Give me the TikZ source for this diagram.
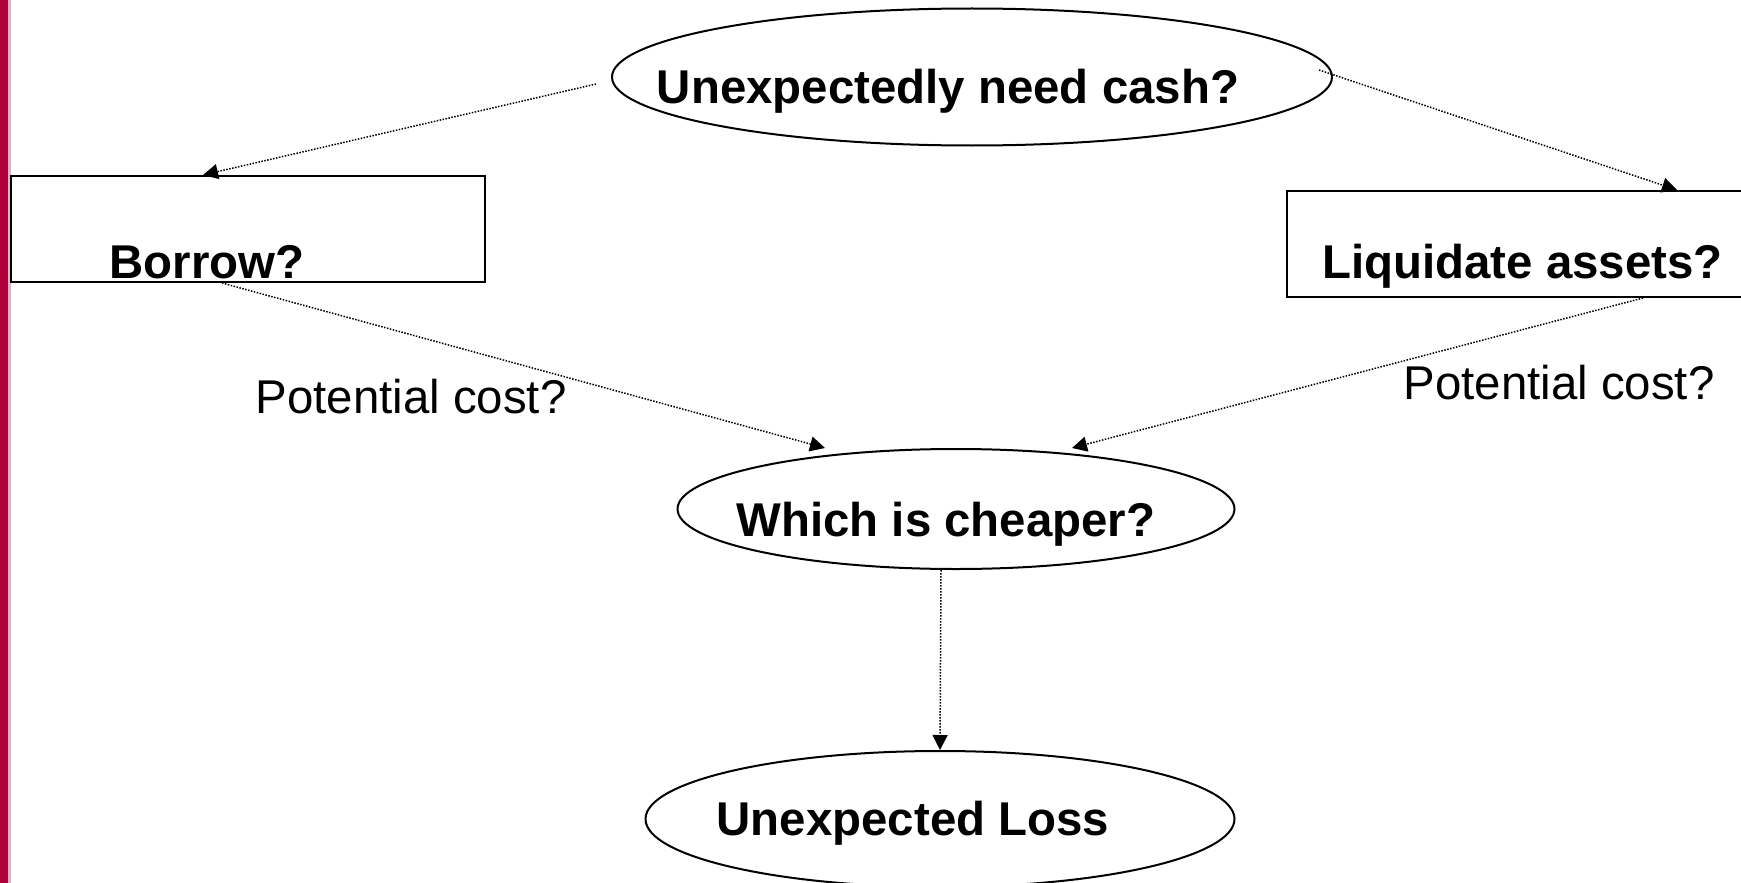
\documentclass[tikz,border=0pt]{standalone}
\usepackage{fontspec}
\setmainfont{Liberation Sans}
\usetikzlibrary{shapes.geometric,arrows.meta}

\definecolor{barred}{RGB}{176,0,60}
\definecolor{barpink}{RGB}{240,170,200}

\tikzset{
  bigtext/.style={font=\fontsize{47.4}{56}\selectfont\bfseries},
  costtext/.style={font=\fontsize{47.4}{56}\selectfont},
  oval/.style={ellipse,draw,line width=2pt,inner sep=0pt},
  boxnode/.style={rectangle,draw,line width=2pt,inner sep=0pt,minimum width=474pt,minimum height=106pt},
  dotarrow/.style={line width=1.5pt,dash pattern=on 1.5pt off 1.5pt,-{Triangle[length=15pt,width=15pt]}}
}

\begin{document}
\begin{tikzpicture}[x=1pt,y=-1pt]
          \useasboundingbox (0,0) rectangle (1741,883);
          \fill[barred] (0,0) rectangle (8,883);
          \fill[barpink] (8,0) rectangle (10.5,883);

          \node[oval,minimum width=720pt,minimum height=137pt,
                label={[bigtext,xshift=-24pt,yshift=-14pt]center:Unexpectedly need cash?}] (need) at (972,77) {};
          \node[boxnode,label={[bigtext,anchor=base,xshift=-41pt,yshift=5pt]south:Borrow?}] (borrow) at (248,229) {};
          \node[boxnode,label={[bigtext,anchor=base,xshift=-1.5pt,yshift=20pt]south:Liquidate assets?}] (liquid) at (1524,244) {};
          \node[oval,minimum width=557pt,minimum height=120pt,
                label={[bigtext,xshift=-10pt,yshift=-15pt]center:Which is cheaper?}] (which) at (956,509) {};
          \node[oval,minimum width=589pt,minimum height=136pt,
                label={[bigtext,xshift=-27pt,yshift=-4pt]center:Unexpected Loss}] (loss) at (940,819) {};

          \node[costtext] (costl) at (411,397) {Potential cost?};
          \node[costtext] (costr) at (1559,383) {Potential cost?};

          \draw[dotarrow] ([xshift=-15pt,yshift=-7pt]need.west) -- ([xshift=-45pt]borrow.north);
          \draw[dotarrow] ([xshift=-14pt,yshift=7pt]need.east) -- ([xshift=153pt]liquid.north);
          \draw[dotarrow] ([xshift=-26pt]borrow.south) -- ([xshift=-131pt]which.north);
          \draw[dotarrow] ([xshift=119pt]liquid.south) -- ([xshift=116pt]which.north);
          \draw[dotarrow] ([xshift=-15pt]which.south) -- (loss.north);
        \end{tikzpicture}
\end{document}
